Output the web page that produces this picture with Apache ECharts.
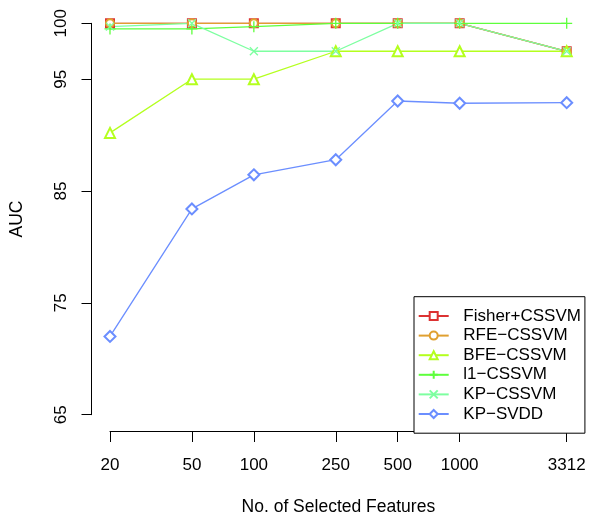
<!DOCTYPE html>
<html>
<head>
<meta charset="utf-8">
<script src="https://cdn.jsdelivr.net/npm/echarts@6/dist/echarts.min.js"></script>
<style>
html,body{margin:0;padding:0;background:#fff;}
#chart{width:590px;height:521px;}
</style>
</head>
<body>
<div id="chart"></div>
<script>
// ---- data ----
const features = [20, 50, 100, 250, 500, 1000, 3312];
const yTicks = [65, 75, 85, 95, 100];
const seriesNames = ['Fisher+CSSVM', 'RFE\u2212CSSVM', 'BFE\u2212CSSVM', 'l1\u2212CSSVM', 'KP\u2212CSSVM', 'KP\u2212SVDD'];
const fisherCSSVM = [100, 100, 100, 100, 100, 100, 97.5];
const rfeCSSVM    = [100, 100, 100, 100, 100, 100, 97.5];
const bfeCSSVM    = [90.2, 95, 95, 97.5, 97.5, 97.5, 97.5];
const l1CSSVM     = [99.5, 99.5, 99.7, 100, 100, 100, 100];
const kpCSSVM     = [99.7, 100, 97.5, 97.5, 100, 100, 97.5];
const kpSVDD      = [72, 83.4, 86.45, 87.8, 93.05, 92.85, 92.9];

const values = [fisherCSSVM, rfeCSSVM, bfeCSSVM, l1CSSVM, kpCSSVM, kpSVDD];
const colors = ['#DC3232', '#E0A030', '#B4FF1E', '#5EFF3C', '#7DFFA0', '#6B8EFF'];
const symbols = ['emptyRect', 'emptyCircle', 'emptyTriangle', 'path://M5,0L5,10M0,5L10,5', 'path://M0,0L10,10M0,10L10,0', 'emptyDiamond'];
const symbolSizes = [8, 8, 10, 11, 8, 11];

const FONT = '"Liberation Sans", Arial, Helvetica, sans-serif';

const series = seriesNames.map((name, i) => ({
  name: name,
  type: 'line',
  color: colors[i],
  data: features.map((f, j) => [f, values[i][j]]),
  symbol: symbols[i],
  symbolSize: symbolSizes[i],
  showAllSymbol: true,
  clip: false,
  lineStyle: { color: colors[i], width: 1.3 },
  itemStyle: symbols[i].indexOf('path://') === 0
    ? { color: colors[i], borderColor: colors[i], borderWidth: 1.3 }
    : { color: colors[i], borderWidth: 1.3 },
  emphasis: { disabled: true },
  animation: false
}));

const chart = echarts.init(document.getElementById('chart'), null, { renderer: 'canvas' });
chart.setOption({
  animation: false,
  backgroundColor: '#ffffff',
  textStyle: { fontFamily: FONT },
  grid: { left: 110, right: 23.3, top: 23.3, bottom: 103.3, containLabel: false },
  xAxis: {
    type: 'log',
    logBase: 10,
    min: 20,
    max: 3312,
    offset: 16.3,
    name: 'No. of Selected Features',
    nameLocation: 'middle',
    nameGap: 67,
    nameTextStyle: { fontSize: 17.5, color: '#000', fontFamily: FONT },
    axisLine: { show: true, lineStyle: { color: '#000', width: 1 } },
    axisTick: { show: true, length: 11, customValues: features, lineStyle: { color: '#000', width: 1 } },
    axisLabel: { show: true, customValues: features, margin: 25.5, fontSize: 17, color: '#000', fontFamily: FONT,
      formatter: v => String(Math.round(v)) },
    splitLine: { show: false },
    minorTick: { show: false }
  },
  yAxis: {
    type: 'value',
    min: 65,
    max: 100,
    offset: 19,
    name: 'AUC',
    nameLocation: 'middle',
    nameGap: 65,
    nameTextStyle: { fontSize: 17.5, color: '#000', fontFamily: FONT },
    axisLine: { show: true, lineStyle: { color: '#000', width: 1 } },
    axisTick: { show: true, length: 9.5, customValues: yTicks, lineStyle: { color: '#000', width: 1 } },
    axisLabel: { show: true, customValues: yTicks, rotate: 90, margin: 21, fontSize: 17, color: '#000', fontFamily: FONT },
    splitLine: { show: false }
  },
  legend: {
    data: seriesNames,
    orient: 'vertical',
    left: 414,
    top: 296.7,
    itemWidth: 30,
    itemHeight: 10,
    itemGap: 0,
    padding: [9.5, 4, 9.4, 3.7],
    borderColor: '#000',
    borderWidth: 1,
    backgroundColor: '#fff',
    selectedMode: false,
    textStyle: { fontSize: 17, color: '#000', fontFamily: FONT, lineHeight: 19.6, padding: [0, 0, 0, 9.6] }
  },
  series: series
});
</script>
</body>
</html>
